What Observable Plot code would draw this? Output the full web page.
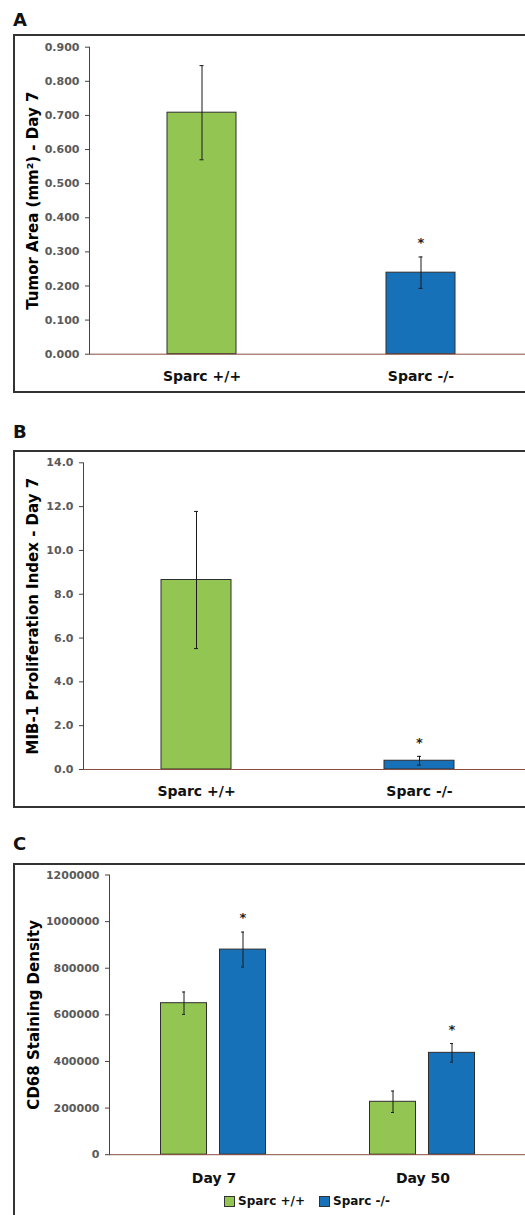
<!DOCTYPE html>
<html><head><meta charset="utf-8">
<script src="https://cdn.jsdelivr.net/npm/d3@7"></script>
<script src="https://cdn.jsdelivr.net/npm/@observablehq/plot@0.6"></script>
<style>
html,body{margin:0;padding:0;background:#fff;}
body{width:525px;height:1215px;overflow:hidden;position:relative;font-family:"DejaVu Sans",sans-serif;font-weight:bold;}
.letter{position:absolute;left:13px;font-size:18px;line-height:18px;color:#111;}
.box{position:absolute;left:13px;width:640px;border:2px solid #333;box-sizing:border-box;background:#fff;}
.box svg{position:absolute;left:0;top:0;}
.legend{position:absolute;left:224px;top:1195px;display:flex;align-items:center;font-size:12px;line-height:12px;color:#111;white-space:nowrap;}
.legend .sw{display:inline-block;width:11px;height:11px;box-sizing:border-box;border:1px solid #333;margin-right:3px;}
.legend .item{display:flex;align-items:center;margin-right:14px;}
</style></head><body>
<div class="letter" style="top:11px">A</div>
<div class="box" id="boxA" style="top:34px;height:359px"></div>
<div class="letter" style="top:423px">B</div>
<div class="box" id="boxB" style="top:450px;height:358px"></div>
<div class="letter" style="top:835px">C</div>
<div class="box" id="boxC" style="top:862.5px;height:400px"></div>
<div class="legend" id="legend"></div>
<script>
// ---------- data ----------
const genotypes = ["Sparc +/+", "Sparc -/-"];
const genotypeColors = ["#92C551", "#1671B9"];

// Panel A: tumor area (mm²), day 7
const tumorArea = [0.708, 0.239];
const tumorAreaErr = [0.138, 0.046];
const tumorAreaSig = [false, true];
const tumorAreaTicks = [0, 0.1, 0.2, 0.3, 0.4, 0.5, 0.6, 0.7, 0.8, 0.9];

// Panel B: MIB-1 proliferation index, day 7
const mib1 = [8.65, 0.40];
const mib1Err = [3.13, 0.20];
const mib1Sig = [false, true];
const mib1Ticks = [0, 2, 4, 6, 8, 10, 12, 14];

// Panel C: CD68 staining density
const days = ["Day 7", "Day 50"];
const cd68Wild = [650000, 227000];
const cd68WildErr = [48000, 46000];
const cd68Null = [880000, 437000];
const cd68NullErr = [75000, 40000];
const cd68Sig = [true, true]; // Sparc -/- significant on each day
const cd68Ticks = [0, 200000, 400000, 600000, 800000, 1000000, 1200000];

// ---------- tables ----------
const dataA = genotypes.map((g, i) => ({genotype: g, value: tumorArea[i], err: tumorAreaErr[i], sig: tumorAreaSig[i]}));
const dataB = genotypes.map((g, i) => ({genotype: g, value: mib1[i], err: mib1Err[i], sig: mib1Sig[i]}));
const dataC = days.flatMap((d, i) => [
  {day: d, genotype: genotypes[0], value: cd68Wild[i], err: cd68WildErr[i], sig: false},
  {day: d, genotype: genotypes[1], value: cd68Null[i], err: cd68NullErr[i], sig: cd68Sig[i]}
]);

const lo = d => d.value - d.err;
const hi = d => d.value + d.err;
const baseStyle = {fontFamily: "DejaVu Sans", fontWeight: "bold", background: "transparent", overflow: "visible"};
const tickFill = "#5a5a5a";
const axisStroke = "#4a4240";
const baseStroke = "#8a4c3e";
const barStroke = "#2e2e2e";

function simplePanel({data, width, height, marginLeft, marginTop, marginBottom, padIn, padOut, yMax, ticks, fmt, label, capInset}) {
  return Plot.plot({
    width, height, marginLeft, marginRight: 0, marginTop, marginBottom,
    style: baseStyle,
    x: {domain: genotypes, paddingInner: padIn, paddingOuter: padOut},
    y: {domain: [0, yMax]},
    color: {domain: genotypes, range: genotypeColors},
    marks: [
      Plot.axisX({tickSize: 0, tickPadding: 17, fontSize: 14, fill: "#111", label: null}),
      Plot.axisY({ticks, tickFormat: d3.format(fmt), tickSize: 4, tickPadding: 6, fontSize: 11, fill: tickFill, stroke: axisStroke, label: null}),
      Plot.frame({anchor: "left", stroke: axisStroke}),
      Plot.barY(data, {x: "genotype", y: "value", fill: "genotype", stroke: barStroke, strokeWidth: 1}),
      Plot.ruleY([0], {stroke: baseStroke, strokeWidth: 1}),
      Plot.ruleX(data, {x: "genotype", y1: lo, y2: hi, stroke: "#1a1a1a", strokeWidth: 1}),
      Plot.tickY(data, {x: "genotype", y: lo, stroke: "#1a1a1a", insetLeft: capInset, insetRight: capInset}),
      Plot.tickY(data, {x: "genotype", y: hi, stroke: "#1a1a1a", insetLeft: capInset, insetRight: capInset}),
      Plot.text(data.filter(d => d.sig), {x: "genotype", y: hi, text: () => "*", dy: -14, fontSize: 13, fill: "#222"}),
      Plot.text([label], {frameAnchor: "left", textAnchor: "middle", rotate: -90, dx: 18 - marginLeft, fontSize: 15, fill: "#000"})
    ]
  });
}

document.getElementById("boxA").appendChild(simplePanel({
  data: dataA, width: 517, height: 355, marginLeft: 74, marginTop: 10.7, marginBottom: 37.3,
  padIn: 0.685, padOut: 0.353, yMax: 0.9, ticks: tumorAreaTicks, fmt: ".3f",
  label: "Tumor Area (mm²) - Day 7", capInset: 32.5
}));

document.getElementById("boxB").appendChild(simplePanel({
  data: dataB, width: 516, height: 354, marginLeft: 68, marginTop: 10.3, marginBottom: 37,
  padIn: 0.687, padOut: 0.345, yMax: 14, ticks: mib1Ticks, fmt: ".1f",
  label: "MIB-1 Proliferation Index - Day 7", capInset: 33
}));

const plotC = Plot.plot({
  width: 512, height: 320, marginLeft: 93.5, marginRight: 0, marginTop: 9.5, marginBottom: 30.8,
  style: baseStyle,
  fx: {domain: days, padding: 0},
  x: {domain: genotypes, paddingInner: 0.22, paddingOuter: 0.86, axis: null},
  y: {domain: [0, 1200000]},
  color: {domain: genotypes, range: genotypeColors},
  marks: [
    Plot.axisFx({anchor: "bottom", tickSize: 0, tickPadding: 18, fontSize: 14, fill: "#111", label: null}),
    Plot.axisY({ticks: cd68Ticks, tickFormat: d3.format("d"), tickSize: 4, tickPadding: 6, fontSize: 11, fill: tickFill, stroke: axisStroke, label: null}),
    Plot.frame({anchor: "left", stroke: axisStroke, facetAnchor: "left"}),
    Plot.barY(dataC, {fx: "day", x: "genotype", y: "value", fill: "genotype", stroke: barStroke, strokeWidth: 1}),
    Plot.ruleY([0], {stroke: baseStroke, strokeWidth: 1}),
    Plot.ruleX(dataC, {fx: "day", x: "genotype", y1: lo, y2: hi, stroke: "#1a1a1a", strokeWidth: 1}),
    Plot.tickY(dataC, {fx: "day", x: "genotype", y: lo, stroke: "#1a1a1a", insetLeft: 21.5, insetRight: 21.5}),
    Plot.tickY(dataC, {fx: "day", x: "genotype", y: hi, stroke: "#1a1a1a", insetLeft: 21.5, insetRight: 21.5}),
    Plot.text(dataC.filter(d => d.sig), {fx: "day", x: "genotype", y: hi, text: () => "*", dy: -14, fontSize: 13, fill: "#222"}),
    Plot.text(["CD68 Staining Density"], {frameAnchor: "left", textAnchor: "middle", rotate: -90, dx: 18 - 93.5, fontSize: 15, fill: "#000", facetAnchor: "left"})
  ]
});
document.getElementById("boxC").appendChild(plotC);

// legend built from the genotype arrays
const legend = document.getElementById("legend");
genotypes.forEach((g, i) => {
  const item = document.createElement("span");
  item.className = "item";
  const sw = document.createElement("span");
  sw.className = "sw";
  sw.style.background = genotypeColors[i];
  item.appendChild(sw);
  item.appendChild(document.createTextNode(g));
  legend.appendChild(item);
});
</script>
</body></html>
